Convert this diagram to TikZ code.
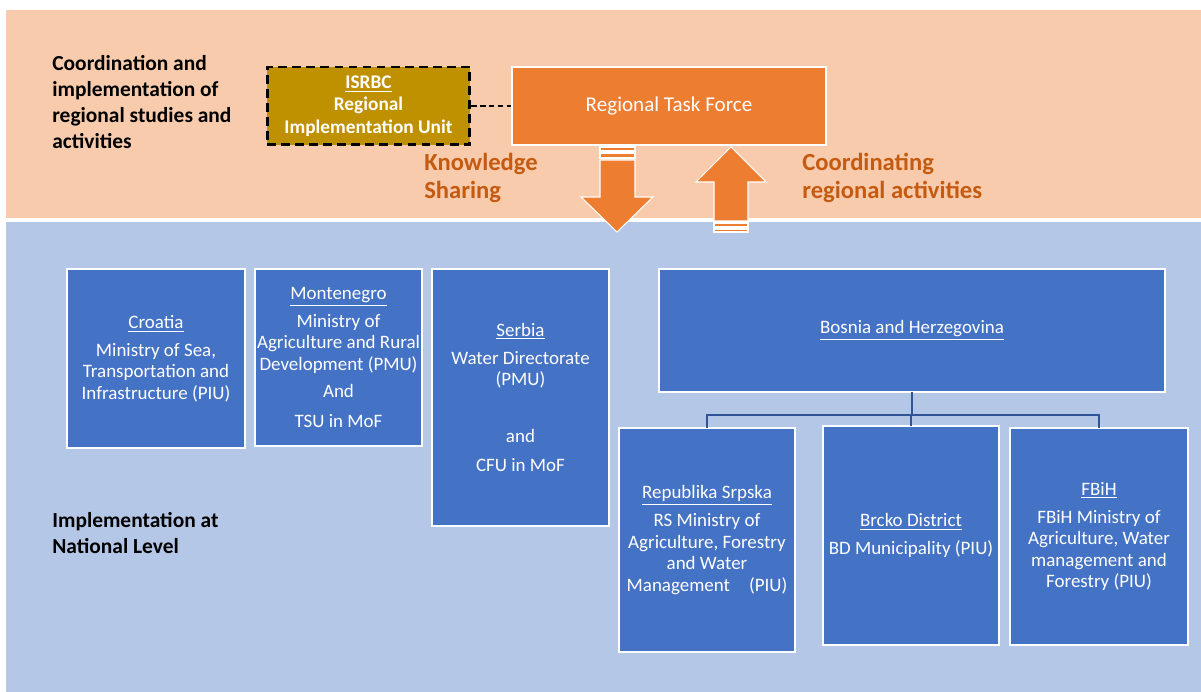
\documentclass[tikz,border=0pt]{standalone}
\usepackage{fontspec}
\setmainfont{Carlito}
\definecolor{peach}{RGB}{248,203,173}
\definecolor{paleblue}{RGB}{180,199,231}
\definecolor{unitblue}{RGB}{68,114,196}
\definecolor{linkblue}{RGB}{47,85,151}
\definecolor{gold}{RGB}{191,144,0}
\definecolor{taskorange}{RGB}{237,125,49}
\definecolor{darkorange}{RGB}{197,90,17}
\begin{document}
\begin{tikzpicture}[x=0.02cm,y=-0.02cm,
    unitbox/.style={fill=unitblue,draw=white,line width=0.8pt,text=white,align=center,
      inner sep=0pt,outer sep=0pt,font=\fontsize{10.8}{12.2}\selectfont},
    sidelabel/.style={anchor=west,align=left,inner sep=0pt,font=\fontsize{12.2}{14.7}\selectfont\bfseries},
    flowlabel/.style={anchor=west,align=left,inner sep=0pt,text=darkorange,font=\fontsize{14}{15.9}\selectfont\bfseries},
    blockarrow/.style={fill=taskorange,draw=white,line width=0.6pt},
    link/.style={draw=linkblue,line width=0.8pt}]
    \useasboundingbox (0,0) rectangle (1201,692);
    % bands
    \fill[peach] (6,10) rectangle (1201,218);
    \fill[paleblue] (6,222) rectangle (1201,692);
    % regional level
    \node[sidelabel] (coordlabel) at (52,102) {Coordination and\\implementation of\\regional studies and\\activities};
    \node[fill=gold,draw=black,line width=1.7pt,dash pattern=on 5pt off 3pt,text=white,align=center,
      inner sep=0pt,minimum width=4.06cm,minimum height=1.56cm,
      font=\fontsize{11}{12.7}\selectfont\bfseries] (isrbc) at (368.5,106)
      {\underline{ISRBC}\\Regional\\Implementation Unit};
    \node[fill=taskorange,draw=white,line width=0.8pt,text=white,inner sep=0pt,
      minimum width=6.28cm,minimum height=1.56cm,font=\fontsize{12}{14.7}\selectfont] (rtf) at (669,106)
      {Regional Task Force};
    \draw[dash pattern=on 3pt off 2pt,line width=0.6pt] (isrbc.east) -- (rtf.west);
    % knowledge sharing arrow
    \draw[blockarrow] (600,147) rectangle (635,151);
    \draw[blockarrow] (600,153) rectangle (635,158);
    \draw[blockarrow] (600,160) -- (635,160) -- (635,197) -- (653,197) -- (617,232)
      -- (581,197) -- (600,197) -- cycle;
    % coordinating arrow
    \draw[blockarrow] (731,147) -- (766,182) -- (748,182) -- (748,221) -- (714,221)
      -- (714,182) -- (696,182) -- cycle;
    \draw[blockarrow] (714,223) rectangle (748,227);
    \draw[blockarrow] (714,229) rectangle (748,232);
    \node[flowlabel] (sharing) at (424,178) {Knowledge\\Sharing};
    \node[flowlabel] (coordinating) at (802,178) {Coordinating\\regional activities};
    % national level
    \node[sidelabel] (natlabel) at (52,533) {Implementation at\\National Level};
    \node[unitbox,minimum width=3.56cm,minimum height=3.58cm] (croatia) at (156,358.5)
      {\underline{Croatia}\\[3.7pt]Ministry of Sea,\\Transportation and\\Infrastructure (PIU)};
    \node[unitbox,minimum width=3.34cm,minimum height=3.54cm] (montenegro) at (338.5,357.5)
      {\underline{Montenegro}\\[3.7pt]Ministry of\\Agriculture and Rural\\Development (PMU)\\[3.7pt]And\\[4.8pt]TSU in MoF};
    \node[unitbox,minimum width=3.54cm,minimum height=5.14cm] (serbia) at (520.5,397.5)
      {\underline{Serbia}\\[3.7pt]Water Directorate\\(PMU)\\[20pt]and\\[4.8pt]CFU in MoF};
    \node[unitbox,minimum width=10.12cm,minimum height=2.46cm] (bih) at (912,330.5)
      {\underline{Bosnia and Herzegovina}};
    \node[unitbox,minimum width=3.52cm,minimum height=4.48cm] (rs) at (707,540)
      {\underline{Republika Srpska}\\[3.7pt]RS Ministry of\\Agriculture, Forestry\\and Water\\Management\quad(PIU)};
    \node[unitbox,minimum width=3.52cm,minimum height=4.38cm] (brcko) at (911,535.5)
      {\underline{Brcko District}\\[3.7pt]BD Municipality (PIU)};
    \node[unitbox,minimum width=3.56cm,minimum height=4.34cm] (fbih) at (1099,536.5)
      {\underline{FBiH}\\[3.7pt]FBiH Ministry of\\Agriculture, Water\\management and\\Forestry (PIU)};
    \coordinate (split) at ([yshift=-0.46cm]bih.south);
    \draw[link] (bih.south) -- (split) -| (rs.north);
    \draw[link] (split) -| (brcko.north);
    \draw[link] (split) -| (fbih.north);
\end{tikzpicture}
\end{document}
